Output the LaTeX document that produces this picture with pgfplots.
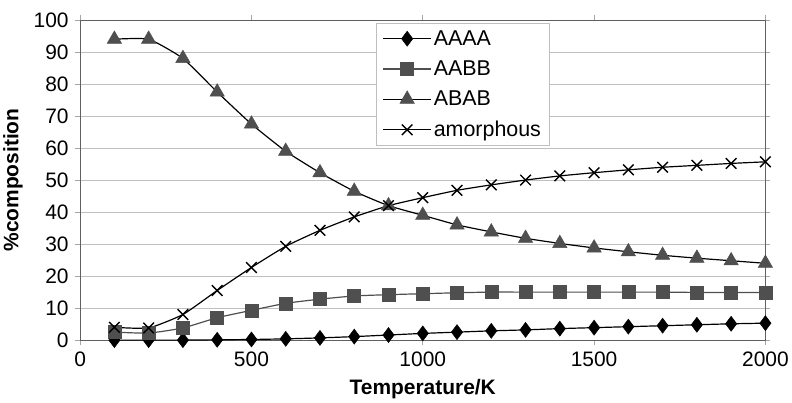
\documentclass[border=0pt]{standalone}
\usepackage{fontspec}
\setmainfont{Liberation Sans}
\usepackage{pgfplots}
\pgfplotsset{compat=1.18}
\definecolor{mk}{HTML}{4F4F4F}
\definecolor{grd}{HTML}{BFBFBF}
\begin{document}
\begin{tikzpicture}
\begin{axis}[
    scale only axis,
    width=685bp, height=320bp,
    xmin=0, xmax=2000, ymin=0, ymax=100,
    xtick={0,500,...,2000}, ytick={0,10,...,100},
    tick align=outside, major tick length=5bp,
    tick style={gray!70, line width=0.8pt},
    ymajorgrids, grid style={grd, line width=0.8pt},
    axis line style={gray!75!black, line width=1pt},
    /pgf/number format/assume math mode=true,
    /pgf/number format/set thousands separator={},
    ticklabel style={font=\fontsize{21}{23}\selectfont},
    xticklabel style={yshift=-3bp},
    yticklabel style={xshift=-3bp},
    xlabel={\textbf{Temperature/K}},
    ylabel={\textbf{\%composition}},
    label style={font=\fontsize{21}{23}\selectfont},
    xlabel style={yshift=-6bp},
    ylabel style={yshift=4bp},
    legend style={at={(rel axis cs:0.432,0.99)}, anchor=north west,
        font=\fontsize{21.5}{23}\selectfont, draw=grd, line width=0.8pt,
        row sep=10bp, inner xsep=6bp, inner ysep=5bp, cells={anchor=west}},
    legend image code/.code={
        \draw[mark repeat=2,mark phase=2,#1] plot coordinates {(0bp,0bp) (24bp,0bp) (48bp,0bp)};
    },
    every axis plot/.append style={line width=1.2pt, smooth, tension=0.3},
]
\addplot[black, mark=diamond*, mark size=7.5bp, mark options={fill=black, solid, line width=0.5pt}] coordinates {
(100,0) (200,0) (300,0) (400,0.1) (500,0.2) (600,0.4) (700,0.7) (800,1.1) (900,1.6) (1000,2.1)
(1100,2.5) (1200,2.9) (1300,3.2) (1400,3.6) (1500,3.9) (1600,4.2) (1700,4.5) (1800,4.8) (1900,5.1) (2000,5.3)};
\addplot[mk, mark=square*, mark size=6.5bp, mark options={fill=mk, draw=mk, line width=0.5pt}] coordinates {
(100,2.5) (200,2.2) (300,3.8) (400,7) (500,9.3) (600,11.5) (700,12.8) (800,13.8) (900,14.2) (1000,14.5)
(1100,14.8) (1200,15) (1300,15) (1400,15) (1500,15) (1600,15) (1700,15) (1800,14.9) (1900,14.9) (2000,14.9)};
\addplot[black, mark=triangle*, mark size=8.3bp, mark options={fill=mk, draw=mk, line width=0.5pt}] coordinates {
(100,94) (200,94) (300,88) (400,77.5) (500,67.5) (600,59) (700,52.3) (800,46.5) (900,42) (1000,39)
(1100,36) (1200,33.8) (1300,31.8) (1400,30.2) (1500,28.8) (1600,27.6) (1700,26.5) (1800,25.6) (1900,24.8) (2000,24)};
\addplot[black, mark=x, mark size=7.5bp, mark options={line width=1.4pt}] coordinates {
(100,4) (200,3.8) (300,8) (400,15.5) (500,22.7) (600,29.3) (700,34.3) (800,38.5) (900,42) (1000,44.5)
(1100,46.8) (1200,48.5) (1300,50) (1400,51.3) (1500,52.3) (1600,53.2) (1700,54) (1800,54.6) (1900,55.2) (2000,55.7)};
\legend{AAAA, AABB, ABAB, amorphous}
\end{axis}
\path (current axis.north) ++(0,20bp);
\end{tikzpicture}
\end{document}
